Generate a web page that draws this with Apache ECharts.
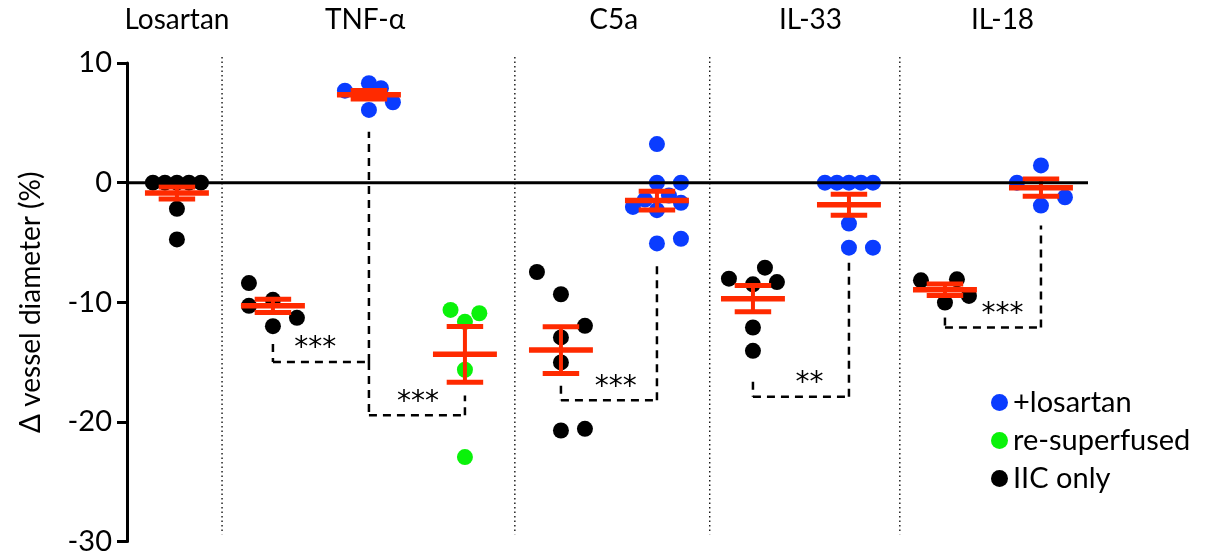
<!DOCTYPE html>
<html>
<head>
<meta charset="utf-8">
<script src="https://cdn.jsdelivr.net/npm/echarts@6/dist/echarts.min.js"></script>
<style>
html,body{margin:0;padding:0;background:#fff;}
#chart{width:1210px;height:556px;}
</style>
</head>
<body>
<div id="chart"></div>
<script>
// ---- data ----
const groupTitles = ['Losartan', 'TNF-α', 'C5a', 'IL-33', 'IL-18'];
const groupTitleCols = [0, 1.96, 4.55, 6.6, 8.6];
const yTicks = [-30, -20, -10, 0, 10];

// columns: 0 Losartan IIC, 1 TNF IIC, 2 TNF +los, 3 TNF re-sup, 4 C5a IIC, 5 C5a +los, 6 IL-33 IIC, 7 IL-33 +los, 8 IL-18 IIC, 9 IL-18 +los
const losartanIIC = [0, 0, 0, 0, 0, -2.19, -4.75];
const losartanIICJitter = [-2, -1, 0, 1, 2, 0, 0];
const tnfIIC = [-8.4, -10.3, -9.8, -11.3, -12.0];
const tnfIICJitter = [-2, -2, 0, 2, 0];
const tnfLos = [7.69, 8.31, 7.89, 6.72, 6.08];
const tnfLosJitter = [-2, 0, 1, 2, 0];
const tnfResup = [-10.64, -10.92, -11.64, -15.64, -22.94];
const tnfResupJitter = [-1.2, 1.2, 0, 0, 0];
const c5aIIC = [-7.47, -9.33, -11.97, -12.94, -15.03, -20.72, -20.58];
const c5aIICJitter = [-2, 0, 2, 0, 0, 0, 2];
const c5aLos = [3.22, 0, 0, -1.42, -1.08, -2.03, -2.3, -1.69, -5.08, -4.69];
const c5aLosJitter = [0, 0, 2, -1, 1, -2, 0, 2, 0, 2];
const il33IIC = [-8.03, -7.11, -8.31, -8.5, -12.11, -14.06];
const il33IICJitter = [-2, 1, 2, 0, 0, 0];
const il33Los = [0, 0, 0, 0, 0, -3.42, -5.44, -5.44];
const il33LosJitter = [-2, -1, 0, 1, 2, 0, 0, 2];
const il18IIC = [-8.17, -8.08, -9.47, -10.03];
const il18IICJitter = [-2, 1, 2, 0];
const il18Los = [1.44, 0, -1.22, -1.92];
const il18LosJitter = [0, -2, 2, 0];

const colMeans = [-0.86, -10.3, 7.35, -14.35, -14.0, -1.5, -9.7, -1.85, -8.95, -0.42];
const colSems = [0.5, 0.55, 0.35, 2.33, 1.95, 0.78, 1.1, 0.87, 0.48, 0.72];

const bracketFrom = [1, 2, 4, 6, 8];
const bracketTo = [2, 3, 5, 7, 9];
const bracketLeftTop = [-13.5, -15.0, -16.97, -16.64, -11.28];
const bracketRightTop = [4.25, -17.8, -6.83, -6.42, -3.58];
const bracketBar = [-15.0, -19.45, -18.2, -17.9, -12.11];
const bracketLabels = ['***', '***', '***', '**', '***'];
const bracketLabelCols = [1.44, 2.51, 4.57, 6.59, 8.6];

const separators = [0.47, 3.52, 5.55, 7.53];

// ---- build ----
const FONT = 'Lato, "Noto Sans", "DejaVu Sans", sans-serif';
const SLOT = 0.125;
function pts(col, vals, jit) {
  return vals.map((v, i) => [col + jit[i] * SLOT, v]);
}
const blueData = [].concat(pts(2, tnfLos, tnfLosJitter), pts(5, c5aLos, c5aLosJitter),
  pts(7, il33Los, il33LosJitter), pts(9, il18Los, il18LosJitter));
const greenData = pts(3, tnfResup, tnfResupJitter);
const blackData = [].concat(pts(0, losartanIIC, losartanIICJitter), pts(1, tnfIIC, tnfIICJitter),
  pts(4, c5aIIC, c5aIICJitter), pts(6, il33IIC, il33IICJitter), pts(8, il18IIC, il18IICJitter));

const XMIN = -0.52, XMAX = 9.49;
const RED = '#ff2a00';
const BLUE = '#0a3cff';
const GREEN = '#0af20a';

const errData = colMeans.map((m, i) => [i, m, colSems[i]]);
const bracketData = bracketFrom.map((f, i) => [f, bracketTo[i], bracketLeftTop[i], bracketRightTop[i], bracketBar[i], bracketLabelCols[i]]);

const chart = echarts.init(document.getElementById('chart'), null, {renderer: 'canvas'});
const dash = {stroke: '#000', lineWidth: 2.5, lineDash: [8, 6]};

chart.setOption({
  animation: false,
  backgroundColor: '#fff',
  grid: {left: 127, right: 122, top: 63, bottom: 13},
  xAxis: {type: 'value', min: XMIN, max: XMAX, show: false},
  yAxis: {
    type: 'value', min: -30, max: 10, interval: 10,
    axisLine: {show: true, onZero: false, lineStyle: {color: '#000', width: 3}},
    axisTick: {show: true, length: 10, lineStyle: {color: '#000', width: 3}},
    splitLine: {show: false},
    axisLabel: {color: '#000', fontSize: 29, fontFamily: FONT, margin: 15,
      formatter: v => yTicks.indexOf(v) >= 0 ? String(v) : ''},
    name: 'Δ vessel diameter (%)',
    nameLocation: 'middle', nameRotate: 90, nameGap: 82,
    nameTextStyle: {color: '#000', fontSize: 28, fontFamily: FONT}
  },
  legend: {
    orient: 'vertical', left: 986, top: 382,
    data: ['+losartan', 're-superfused', 'IIC only'],
    icon: 'circle', itemWidth: 17, itemHeight: 17, itemGap: 7,
    textStyle: {color: '#000', fontSize: 29, fontFamily: FONT, lineHeight: 31}
  },
  series: [
    {
      type: 'custom', name: 'separators', silent: true, z: 1,
      data: separators.map(s => [s]),
      renderItem: (p, api) => {
        const a = api.coord([api.value(0), 10.5]);
        const b = api.coord([api.value(0), -29.4]);
        return {type: 'line', shape: {x1: a[0], y1: a[1], x2: b[0], y2: b[1]},
          style: {stroke: '#000', lineWidth: 1.3, lineDash: [1.5, 3]}};
      }
    },
    {type: 'scatter', name: '+losartan', data: blueData, symbolSize: 16, z: 3,
      itemStyle: {color: BLUE, opacity: 1}},
    {type: 'scatter', name: 're-superfused', data: greenData, symbolSize: 16, z: 3,
      itemStyle: {color: GREEN, opacity: 1}},
    {type: 'scatter', name: 'IIC only', data: blackData, symbolSize: 16, z: 3,
      itemStyle: {color: '#000', opacity: 1}},
    {
      type: 'custom', name: 'meanSem', silent: true, z: 4,
      data: errData,
      renderItem: (p, api) => {
        const x = api.value(0), m = api.value(1), s = api.value(2);
        const c = api.coord([x, m]);
        const up = api.coord([x, m + s]);
        const lo = api.coord([x, m - s]);
        const half = api.size([0.333, 0])[0];
        const cap = api.size([0.19, 0])[0];
        const st = w => ({stroke: RED, lineWidth: w});
        return {type: 'group', children: [
          {type: 'line', shape: {x1: c[0], y1: up[1], x2: c[0], y2: lo[1]}, style: st(4)},
          {type: 'line', shape: {x1: c[0] - cap, y1: up[1], x2: c[0] + cap, y2: up[1]}, style: st(5)},
          {type: 'line', shape: {x1: c[0] - cap, y1: lo[1], x2: c[0] + cap, y2: lo[1]}, style: st(5)},
          {type: 'line', shape: {x1: c[0] - half, y1: c[1], x2: c[0] + half, y2: c[1]}, style: st(5.5)}
        ]};
      }
    },
    {
      type: 'custom', name: 'zero', silent: true, z: 6,
      data: [[XMIN, XMAX]],
      renderItem: (p, api) => {
        const a = api.coord([api.value(0), 0]);
        const b = api.coord([api.value(1), 0]);
        return {type: 'line', shape: {x1: a[0], y1: a[1], x2: b[0], y2: b[1]},
          style: {stroke: '#000', lineWidth: 3}};
      }
    },
    {
      type: 'custom', name: 'brackets', silent: true, z: 5,
      data: bracketData,
      renderItem: (p, api) => {
        const f = api.value(0), t = api.value(1);
        const lt = api.coord([f, api.value(2)]);
        const rt = api.coord([t, api.value(3)]);
        const bl = api.coord([f, api.value(4)]);
        const br = api.coord([t, api.value(4)]);
        const lx = api.coord([api.value(5), api.value(4)])[0];
        const label = bracketLabels[p.dataIndex];
        return {type: 'group', children: [
          {type: 'line', shape: {x1: lt[0], y1: lt[1], x2: bl[0], y2: bl[1]}, style: dash},
          {type: 'line', shape: {x1: bl[0], y1: bl[1], x2: br[0], y2: br[1]}, style: dash},
          {type: 'line', shape: {x1: br[0], y1: br[1], x2: rt[0], y2: rt[1]}, style: dash},
          {type: 'text', x: lx, y: bl[1] - 13,
            style: {text: label, fill: '#000', fontSize: 28,
              fontFamily: '"DejaVu Sans", sans-serif', align: 'center', verticalAlign: 'middle'}}
        ]};
      }
    },
    {
      type: 'custom', name: 'titles', silent: true, z: 5,
      data: groupTitleCols.map((c, i) => [c, 13.6, i]),
      renderItem: (p, api) => {
        const c = api.coord([api.value(0), api.value(1)]);
        return {type: 'text', x: c[0], y: c[1],
          style: {text: groupTitles[p.dataIndex], fill: '#000', fontSize: 28, fontFamily: FONT,
            align: 'center', verticalAlign: 'middle'}};
      }
    }
  ]
});
</script>
</body>
</html>
